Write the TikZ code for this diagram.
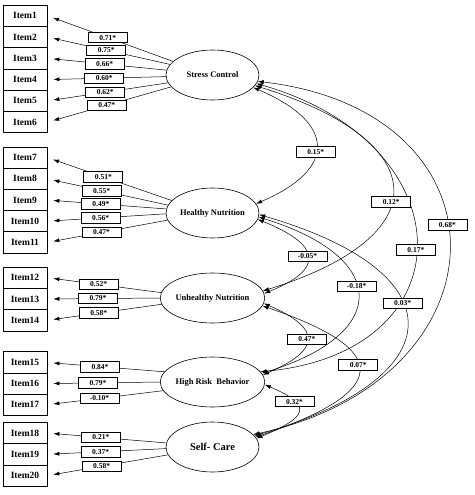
\documentclass[tikz,border=0pt]{standalone}
\usepackage{fontspec}
\setmainfont{Liberation Serif}
\usetikzlibrary{shapes.geometric,arrows.meta}
\tikzstyle{item}=[draw,line width=0.8pt,minimum width=44pt,minimum height=21.3pt,inner sep=0pt,font=\fontsize{9.5}{10}\selectfont\bfseries]
\tikzstyle{factor}=[ellipse,draw,line width=0.6pt,minimum width=93pt,minimum height=50pt,inner sep=0pt,font=\fontsize{8.5}{9}\selectfont\bfseries]
\tikzstyle{coef}=[draw,fill=white,line width=0.8pt,minimum width=39pt,minimum height=10.5pt,inner sep=0pt,font=\fontsize{7.5}{8}\selectfont\bfseries]
\tikzstyle{load}=[line width=0.5pt,-{Latex[length=6pt,width=4pt]},shorten >=6pt]
\tikzstyle{cov}=[line width=0.5pt,{Latex[length=6pt,width=4pt]}-{Latex[length=6pt,width=4pt]}]

\begin{document}
\begin{tikzpicture}[x=1pt,y=-1pt]
	\useasboundingbox (0,0) rectangle (474,495);
	% indicators
		\node [style=item] (i1) at (25, 15.7) {Item1};
		\node [style=item] (i2) at (25, 37) {Item2};
		\node [style=item] (i3) at (25, 58.3) {Item3};
		\node [style=item] (i4) at (25, 79.6) {Item4};
		\node [style=item] (i5) at (25, 100.9) {Item5};
		\node [style=item] (i6) at (25, 122.2) {Item6};
		\node [style=item] (i7) at (25, 157.6) {Item7};
		\node [style=item] (i8) at (25, 178.8) {Item8};
		\node [style=item] (i9) at (25, 200) {Item9};
		\node [style=item] (i10) at (25, 221.2) {Item10};
		\node [style=item] (i11) at (25, 242.4) {Item11};
		\node [style=item] (i12) at (25, 277.7) {Item12};
		\node [style=item] (i13) at (25, 299) {Item13};
		\node [style=item] (i14) at (25, 320.3) {Item14};
		\node [style=item] (i15) at (25, 362.5) {Item15};
		\node [style=item] (i16) at (25, 383.6) {Item16};
		\node [style=item] (i17) at (25, 404.7) {Item17};
		\node [style=item] (i18) at (25, 433) {Item18};
		\node [style=item] (i19) at (25, 454.3) {Item19};
		\node [style=item] (i20) at (25, 475.6) {Item20};
	% factors
		\node [style=factor] (SC) at (212.5, 75) {Stress Control};
		\node [style=factor] (HN) at (212.5, 213) {Healthy Nutrition};
		\node [style=factor] (UN) at (212.5, 298) {Unhealthy Nutrition};
		\node [style=factor] (HRB) at (212.5, 382) {High Risk\ \ Behavior};
		\node [style=factor,font=\fontsize{10.5}{11}\selectfont\bfseries] (SCare) at (212.5, 447) {Self- Care};
	% loadings
		\draw [style=load] (SC.161) -- (i1.east) node[coef,pos=0.52] (c1) {0.71*};
		\draw [style=load] (SC.166) -- (i2.east) node[coef,pos=0.52] (c2) {0.75*};
		\draw [style=load] (SC.174) -- (i3.east) node[coef,pos=0.52] (c3) {0.66*};
		\draw [style=load] (SC.182) -- (i4.east) node[coef,pos=0.52] (c4) {0.60*};
		\draw [style=load] (SC.190) -- (i5.east) node[coef,pos=0.52] (c5) {0.62*};
		\draw [style=load] (SC.196) -- (i6.east) node[coef,pos=0.52] (c6) {0.47*};
		\draw [style=load] (HN.163) -- (i7.east) node[coef,pos=0.55] (c7) {0.51*};
		\draw [style=load] (HN.170) -- (i8.east) node[coef,pos=0.55] (c8) {0.55*};
		\draw [style=load] (HN.175) -- (i9.east) node[coef,pos=0.55] (c9) {0.49*};
		\draw [style=load] (HN.181) -- (i10.east) node[coef,pos=0.55] (c10) {0.56*};
		\draw [style=load] (HN.189) -- (i11.east) node[coef,pos=0.55] (c11) {0.47*};
		\draw [style=load] (UN.174) -- (i12.east) node[coef,pos=0.55] (c12) {0.52*};
		\draw [style=load] (UN.180) -- (i13.east) node[coef,pos=0.55] (c13) {0.79*};
		\draw [style=load] (UN.187) -- (i14.east) node[coef,pos=0.55] (c14) {0.58*};
		\draw [style=load] (HRB.168) -- (i15.east) node[coef,pos=0.55] (c15) {0.84*};
		\draw [style=load] (HRB.180) -- (i16.east) node[coef,pos=0.55] (c16) {0.79*};
		\draw [style=load] (HRB.190) -- (i17.east) node[coef,pos=0.55] (c17) {-0.10*};
		\draw [style=load] (SCare.175) -- (i18.east) node[coef,pos=0.55] (c18) {0.21*};
		\draw [style=load] (SCare.182) -- (i19.east) node[coef,pos=0.55] (c19) {0.37*};
		\draw [style=load] (SCare.190) -- (i20.east) node[coef,pos=0.55] (c20) {0.58*};
	% covariances
		\draw [style=cov] (SC.-8) .. controls +(258,30) and +(258,-56) .. (SCare.17) node[coef,pos=0.45] (r10) {0.68*};
		\draw [style=cov] (SC.-11) .. controls +(210,60) and +(210,-20) .. (HRB.12) node[coef,pos=0.52] (r3) {0.17*};
		\draw [style=cov] (SC.-14) .. controls +(178,55) and +(178,-55) .. (UN.8) node[coef,pos=0.56] (r2) {0.12*};
		\draw [style=cov] (SC.-17) .. controls +(82,35) and +(82,-35) .. (HN.12) node[coef,pos=0.55] (r1) {0.15*};
		\draw [style=cov] (HN.-2) .. controls +(200,58) and +(200,-58) .. (SCare.15) node[coef,pos=0.41] (r7) {0.03*};
		\draw [style=cov] (HN.-5) .. controls +(130,40) and +(130,-40) .. (HRB.10) node[coef,pos=0.45] (r6) {-0.18*};
		\draw [style=cov] (HN.-8) .. controls +(62,25) and +(62,-25) .. (UN.5) node[coef,pos=0.5] (r5) {-0.05*};
		\draw [style=cov] (UN.-9) .. controls +(133,45) and +(133,-45) .. (SCare.13) node[coef,pos=0.45] (r9) {0.07*};
		\draw [style=cov] (UN.-6) .. controls +(58,25) and +(58,-25) .. (HRB.8) node[coef,pos=0.5] (r8) {0.47*};
		\draw [style=cov] (HRB.-3) .. controls +(50,21) and +(50,-21) .. (SCare.11) node[coef,pos=0.3] (r4) {0.32*};
\end{tikzpicture}
\end{document}
